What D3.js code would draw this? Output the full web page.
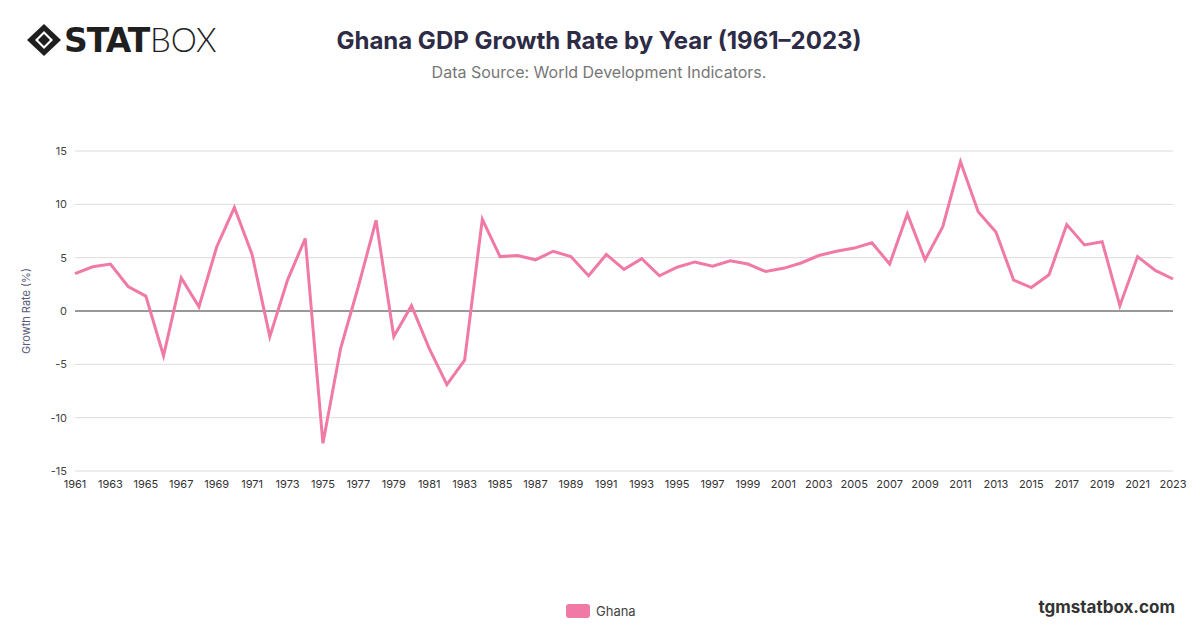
<!DOCTYPE html>
<html><head><meta charset="utf-8">
<script src="https://cdn.jsdelivr.net/npm/d3@7"></script>
<style>body{margin:0;background:#fff;font-family:"Helvetica Neue",Inter,"Liberation Sans",Arial,sans-serif}</style>
</head><body><svg id="c" width="1200" height="628"></svg>
<script>
const years = d3.range(1961, 2024);
const growth = [3.5,4.15,4.4,2.3,1.4,-4.2,3.1,0.4,6.0,9.7,5.3,-2.4,2.9,6.8,-12.4,-3.5,2.3,8.5,-2.4,0.5,-3.5,-6.9,-4.6,8.6,5.1,5.2,4.8,5.6,5.1,3.3,5.3,3.9,4.9,3.3,4.1,4.6,4.2,4.7,4.4,3.7,4.0,4.5,5.2,5.6,5.9,6.4,4.4,9.1,4.8,7.9,14.0,9.3,7.4,2.9,2.2,3.4,8.1,6.2,6.5,0.5,5.1,3.8,3.0];
const yTicks = [-15,-10,-5,0,5,10,15];
const xTicks = d3.range(1961, 2024, 2);

const svg = d3.select("#c");
const x = d3.scaleLinear().domain([1961,2023]).range([75,1173]);
const y = d3.scaleLinear().domain([-15,15]).range([471,151]);

svg.append("g").selectAll("line").data(yTicks).join("line")
 .attr("x1",75).attr("x2",1173).attr("y1",d=>y(d)).attr("y2",d=>y(d))
 .attr("stroke",d=>d===0?"#333":"#dcdcdc").attr("stroke-width",1);
svg.append("g").selectAll("text").data(yTicks).join("text")
 .attr("x",67).attr("y",d=>y(d)+4).attr("text-anchor","end")
 .attr("font-size",11).attr("fill","#444").text(d=>d);
svg.append("g").selectAll("text").data(xTicks).join("text")
 .attr("x",d=>x(d)).attr("y",488).attr("text-anchor","middle")
 .attr("font-size",11).attr("fill","#333").text(d=>d);
svg.append("text").attr("transform","translate(30,311) rotate(-90)")
 .attr("text-anchor","middle").attr("font-size",11).attr("fill","#5a5a7a").text("Growth Rate (%)");

svg.append("path").datum(years.map((yr,i)=>[yr,growth[i]]))
 .attr("fill","none").attr("stroke","#f07aa5").attr("stroke-width",3)
 .attr("stroke-linejoin","miter")
 .attr("d",d3.line().x(d=>x(d[0])).y(d=>y(d[1])));

svg.append("text").attr("x",599).attr("y",49).attr("text-anchor","middle")
 .attr("font-size",24).attr("font-weight","bold").attr("fill","#2d2b45")
 .text("Ghana GDP Growth Rate by Year (1961–2023)");
svg.append("text").attr("x",599).attr("y",78).attr("text-anchor","middle")
 .attr("font-size",16).attr("fill","#777").text("Data Source: World Development Indicators.");

svg.append("rect").attr("x",566).attr("y",604).attr("width",24).attr("height",14).attr("rx",3).attr("fill","#f07aa5");
svg.append("text").attr("x",596).attr("y",616).attr("font-size",13).attr("fill","#444").text("Ghana");
svg.append("text").attr("x",1175).attr("y",613).attr("text-anchor","end")
 .attr("font-size",17).attr("font-weight","bold").attr("fill","#333").text("tgmstatbox.com");

// logo
const lg = svg.append("g");
lg.append("path").attr("d","M27,40 L44,24 L61,40 L44,56 Z").attr("fill","#1f1f1f");
lg.append("path").attr("d","M35,40 L44,31 L53,40 L44,49 Z").attr("fill","#fff");
lg.append("path").attr("d","M38,40 L44,34 L50,40 L44,46 Z").attr("fill","#1f1f1f");
lg.append("text").attr("x",64).attr("y",52).attr("font-size",33).attr("font-weight","900")
 .attr("fill","#1f1f1f").attr("font-family","'DejaVu Sans',sans-serif").attr("letter-spacing",-1).text("STAT");
lg.append("text").attr("x",150).attr("y",52).attr("font-size",33).attr("font-weight","300")
 .attr("fill","#1f1f1f").attr("font-family","Lato,sans-serif").text("BOX");
</script></body></html>
